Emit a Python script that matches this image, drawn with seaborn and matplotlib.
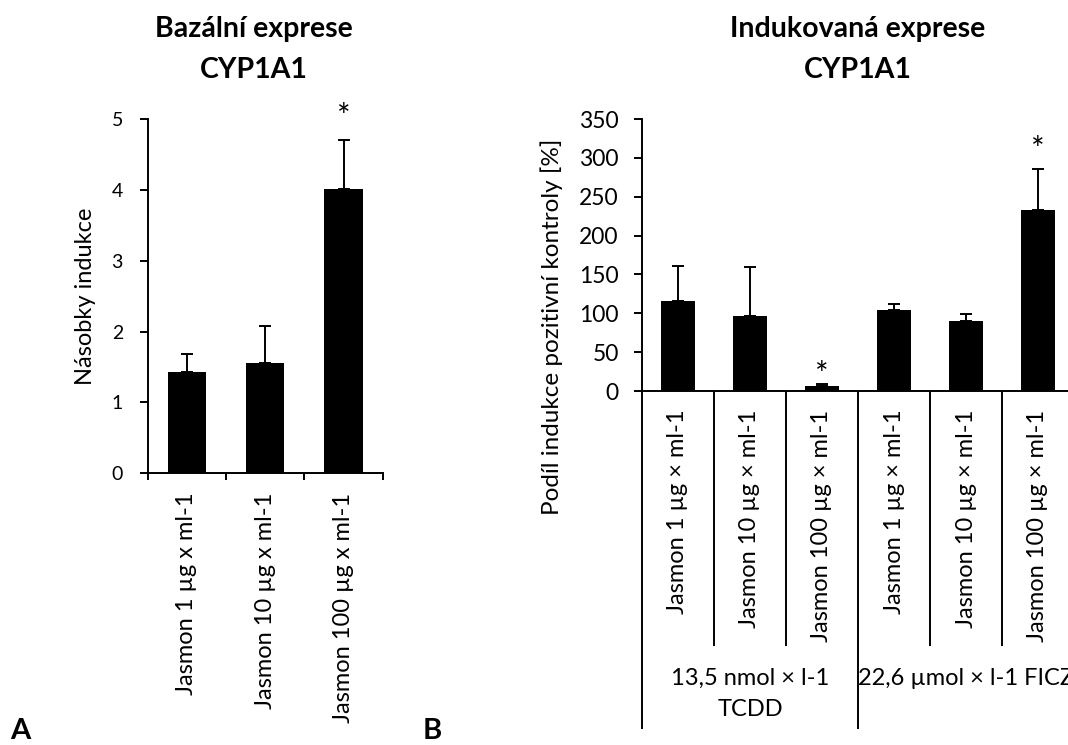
import matplotlib
matplotlib.use("Agg")
import matplotlib.pyplot as plt
import matplotlib.transforms as mtransforms
import numpy as np
import pandas as pd
import seaborn as sns

# ---- data -------------------------------------------------------------
# A: basal CYP1A1 expression (fold induction)
basal_labels = ["Jasmon 1 µg x ml-1", "Jasmon 10 µg x ml-1", "Jasmon 100 µg x ml-1"]
basal_mean = [1.43, 1.56, 4.01]
basal_err = [0.25, 0.52, 0.70]
basal_sig = [False, False, True]

# B: induced CYP1A1 expression (% of positive control)
induced_labels = ["Jasmon 1 µg × ml-1", "Jasmon 10 µg × ml-1", "Jasmon 100 µg × ml-1",
                  "Jasmon 1 µg × ml-1", "Jasmon 10 µg × ml-1", "Jasmon 100 µg × ml-1"]
induced_groups = ["13,5 nmol × l-1\nTCDD"] * 3 + ["22,6 µmol × l-1 FICZ"] * 3
induced_mean = [116, 97, 6.4, 104, 90.5, 233]
induced_err = [45, 63, 3.0, 8.5, 8.5, 53]
induced_sig = [False, False, True, False, False, True]

# ---- style ------------------------------------------------------------
sns.set_theme(style="white")
plt.rcParams["font.family"] = ["Lato", "DejaVu Sans"]
for key in ("text.color", "axes.labelcolor", "xtick.color", "ytick.color", "axes.edgecolor"):
    plt.rcParams[key] = "black"

W, H = 1068, 745
fig = plt.figure(figsize=(W / 100, H / 100), dpi=100)


def px_box(left, top, right, bottom):
    return [left / W, 1 - bottom / H, (right - left) / W, (bottom - top) / H]


LW = 1.4
LABEL_FS = 17
TITLE_FS = 20.5
STAR_FS = 23


def draw_bars(ax, labels, mean, err, width):
    df = pd.DataFrame({"key": [f"{i}" for i in range(len(labels))], "value": mean})
    sns.barplot(data=df, x="key", y="value", color="black", saturation=1,
                width=width, errorbar=None, linewidth=0, ax=ax)
    xs = [p.get_x() + p.get_width() / 2 for p in ax.patches]
    ax.errorbar(xs, mean, yerr=[np.zeros(len(mean)), err], fmt="none",
                ecolor="black", elinewidth=LW, capsize=4, capthick=LW)
    ax.set_xlabel("")
    ax.set_ylabel("")
    for side in ("top", "right"):
        ax.spines[side].set_visible(False)
    for side in ("left", "bottom"):
        ax.spines[side].set_linewidth(LW)
    ax.set_xticks(range(len(labels)))
    ax.set_xticklabels(labels, rotation=90, fontsize=LABEL_FS)
    ax.tick_params(axis="y", left=True, direction="out", length=5.8, width=LW)
    return xs


def add_stars(ax, xs, mean, err, sig, offsets):
    for x, m, e, s, off in zip(xs, mean, err, sig, offsets):
        if s:
            ax.annotate("*", xy=(x, m + e), xytext=(0, off), textcoords="offset points",
                        ha="center", va="baseline", fontsize=STAR_FS, annotation_clip=False)


# ---- panel A ------------------------------------------------------------
axA = fig.add_axes(px_box(147.7, 119, 382.7, 473.3))
xsA = draw_bars(axA, basal_labels, basal_mean, basal_err, 0.49)
axA.set_xlim(-0.5, len(basal_labels) - 0.5)
axA.set_ylim(0, 5)
axA.set_yticks(range(0, 6))
axA.tick_params(axis="y", labelsize=14, pad=12)
axA.tick_params(axis="x", which="major", length=0, pad=14)
axA.set_xticks(np.arange(-0.5, len(basal_labels)), minor=True)
axA.tick_params(axis="x", which="minor", bottom=True, direction="out", length=5, width=LW)
add_stars(axA, xsA, basal_mean, basal_err, basal_sig, [0, 0, 9])

fig.text(86 / W, 1 - 296 / H, "Násobky indukce", rotation=90, ha="center", va="center",
         fontsize=LABEL_FS)
fig.text(254 / W, 1 - 37 / H, "Bazální exprese", ha="center", va="baseline",
         fontsize=TITLE_FS, fontweight="bold")
fig.text(254 / W, 1 - 78 / H, "CYP1A1", ha="center", va="baseline",
         fontsize=TITLE_FS, fontweight="bold")

# ---- panel B ------------------------------------------------------------
axB = fig.add_axes(px_box(642, 119, 1074, 391))
xsB = draw_bars(axB, induced_labels, induced_mean, induced_err, 0.48)
axB.set_xlim(-0.5, len(induced_labels) - 0.5)
axB.set_ylim(0, 350)
axB.set_yticks(range(0, 351, 50))
axB.tick_params(axis="y", labelsize=16.5, pad=11)
axB.tick_params(axis="x", which="major", length=0, pad=13.5)
add_stars(axB, xsB, induced_mean, induced_err, induced_sig, [0, 0, -1, 0, 0, 6.5])

# multi-level category axis: separators between bars and between groups
trans = mtransforms.blended_transform_factory(axB.transData, axB.transAxes)
group_names = list(dict.fromkeys(induced_groups))
group_idx = [[i for i, g in enumerate(induced_groups) if g == name] for name in group_names]
inner_bottom = -(646 - 391) / 272
outer_bottom = -(729 - 391) / 272
edges = set([-0.5] + [idx[-1] + 0.5 for idx in group_idx])
for b in np.arange(-0.5, len(induced_labels)):
    bottom = outer_bottom if b in edges else inner_bottom
    axB.plot([b, b], [0, bottom], transform=trans, color="black", lw=LW,
             clip_on=False, solid_capstyle="butt")
for name, idx in zip(group_names, group_idx):
    axB.text(np.mean(idx), -(668 - 391) / 272, name, transform=trans, ha="center",
             va="top", fontsize=LABEL_FS, linespacing=1.6, clip_on=False)

fig.text(552 / W, 1 - 327 / H, "Podíl indukce pozitivní kontroly [%]", rotation=90,
         ha="center", va="center", fontsize=17.5)
fig.text(858 / W, 1 - 37 / H, "Indukovaná exprese", ha="center", va="baseline",
         fontsize=TITLE_FS, fontweight="bold")
fig.text(858 / W, 1 - 78 / H, "CYP1A1", ha="center", va="baseline",
         fontsize=TITLE_FS, fontweight="bold")

# panel letters
fig.text(10 / W, 1 - 739 / H, "A", ha="left", va="baseline", fontsize=21, fontweight="bold")
fig.text(423 / W, 1 - 739 / H, "B", ha="left", va="baseline", fontsize=21, fontweight="bold")

fig.savefig("out.png", dpi=100, facecolor="white")
